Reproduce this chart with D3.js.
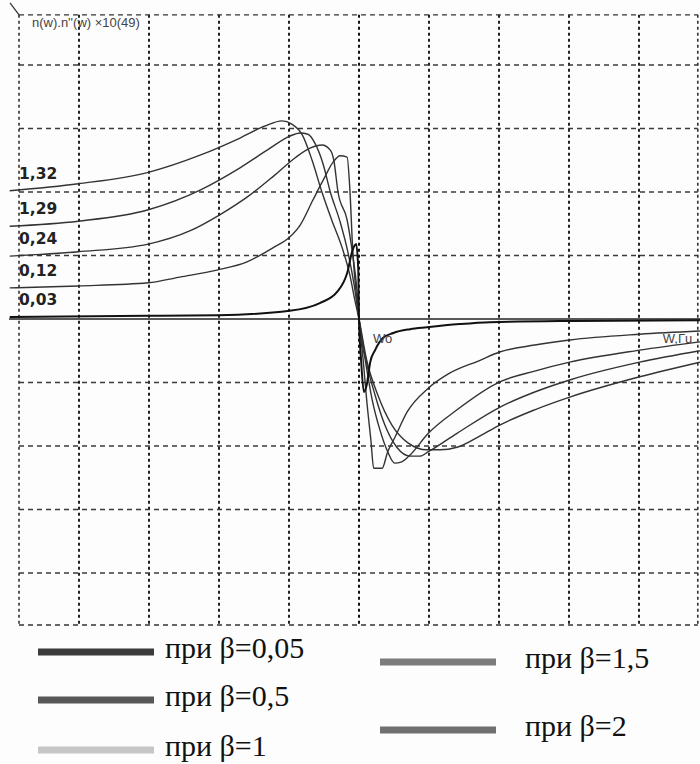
<!DOCTYPE html>
<html>
<head>
<meta charset="utf-8">
<script src="https://cdn.jsdelivr.net/npm/d3@7"></script>
<style>
body { margin: 0; background: #fff; }
svg { display: block; }
</style>
</head>
<body>
<svg id="chart" width="700" height="764"></svg>
<script>
// curves, one grid cell = 1 unit, origin at Wo
var n132 = [[-4.99,2.02],[-4.01,2.13],[-3.01,2.31],[-2.27,2.58],[-1.70,2.85],[-1.34,3.04],[-1.10,3.12],[-0.96,3.07],[-0.81,2.90],[-0.67,2.50],[-0.53,2.00],[-0.39,1.56],[-0.24,1.12],[-0.13,0.69],[-0.06,0.30],[0,0],[0.11,-0.65],[0.27,-1.20],[0.47,-1.67],[0.70,-1.95],[0.97,-2.06],[1.16,-2.06],[1.40,-2.02],[1.73,-1.84],[2.01,-1.67],[2.51,-1.43],[3.01,-1.23],[4.01,-0.91],[4.87,-0.68]];
var n129 = [[-4.99,1.46],[-4.01,1.54],[-3.01,1.72],[-2.27,2.03],[-1.70,2.38],[-1.27,2.69],[-0.99,2.88],[-0.84,2.93],[-0.73,2.91],[-0.63,2.77],[-0.51,2.43],[-0.41,2.00],[-0.27,1.53],[-0.16,1.06],[-0.07,0.54],[0,0],[0.10,-0.65],[0.23,-1.20],[0.37,-1.67],[0.54,-2.02],[0.73,-2.16],[0.87,-2.16],[0.99,-2.09],[1.40,-1.80],[2.01,-1.39],[2.51,-1.15],[3.01,-0.96],[4.01,-0.68],[4.87,-0.50]];
var n024 = [[-4.99,0.99],[-4.01,1.06],[-3.01,1.18],[-2.41,1.39],[-1.99,1.64],[-1.56,1.95],[-1.20,2.27],[-0.91,2.54],[-0.70,2.69],[-0.53,2.74],[-0.41,2.66],[-0.36,2.50],[-0.30,2.00],[-0.17,1.56],[-0.09,1.01],[-0.03,0.46],[0,0],[0.09,-0.65],[0.19,-1.28],[0.30,-1.75],[0.41,-2.09],[0.51,-2.27],[0.61,-2.25],[0.73,-2.14],[0.99,-1.80],[1.40,-1.43],[2.01,-0.99],[2.51,-0.82],[3.01,-0.68],[4.01,-0.49],[4.87,-0.36]];
var n012 = [[-4.99,0.49],[-4.01,0.52],[-3.01,0.57],[-2.56,0.66],[-2.03,0.77],[-1.60,0.90],[-1.23,1.12],[-0.99,1.29],[-0.84,1.48],[-0.66,1.87],[-0.51,2.19],[-0.37,2.47],[-0.27,2.57],[-0.17,2.55],[-0.13,2.03],[-0.09,1.09],[-0.03,0.30],[0,0],[0.06,-0.65],[0.11,-1.28],[0.17,-1.91],[0.21,-2.35],[0.33,-2.35],[0.41,-2.09],[0.51,-1.87],[0.69,-1.46],[0.99,-1.09],[1.30,-0.85],[1.73,-0.65],[2.01,-0.52],[2.51,-0.41],[3.01,-0.33],[4.01,-0.24],[4.87,-0.19]];
var n003 = [[-4.99,0.03],[-3.01,0.05],[-2.01,0.06],[-0.99,0.13],[-0.56,0.25],[-0.31,0.43],[-0.17,0.72],[-0.09,1.09],[-0.04,1.18],[-0.01,0.77],[0,0],[0.03,-0.65],[0.07,-1.15],[0.11,-1.04],[0.16,-0.68],[0.23,-0.49],[0.34,-0.30],[0.49,-0.22],[0.73,-0.16],[0.97,-0.13],[1.44,-0.08],[1.87,-0.05],[3.06,-0.03],[4.87,-0.02]];

var curveLabels = ["1,32", "1,29", "0,24", "0,12", "0,03"];
var betaLabels = ["при β=0,05", "при β=0,5", "при β=1", "при β=1,5", "при β=2"];
var gridX = [-4, -3, -2, -1, 0, 1, 2, 3, 4];
var gridY = [-4, -3, -2, -1, 1, 2, 3, 4];
var titleText = "n(w).n''(w) ×10(49)";

// ---------------------------------------------------------------------------

var svg = d3.select("#chart");
var x = d3.scaleLinear().domain([-5, 5]).range([9, 709]);
var y = d3.scaleLinear().domain([-5, 5]).range([636.5, 1.5]);

// frame edges, in the same units
var fl = -4.857, fr = 4.84, ft = 4.79, fb = -4.82;

svg.append("rect").attr("width", 700).attr("height", 764).attr("fill", "#fdfdfd");

var g = svg.append("g");

g.selectAll("line.vgrid")
    .data(gridX)
    .enter().append("line")
    .attr("class", "vgrid")
    .attr("x1", d => x(d)).attr("x2", d => x(d))
    .attr("y1", y(ft)).attr("y2", y(fb))
    .attr("stroke", d => d == 0 ? "#111" : "#222")
    .attr("stroke-width", 2)
    .attr("stroke-dasharray", "3,3");

g.selectAll("line.hgrid")
    .data(gridY)
    .enter().append("line")
    .attr("class", "hgrid")
    .attr("x1", x(fl)).attr("x2", x(fr))
    .attr("y1", d => y(d)).attr("y2", d => y(d))
    .attr("stroke", "#3a3a3a")
    .attr("stroke-width", 1.4)
    .attr("stroke-dasharray", "5,4");

// frame
g.selectAll("line.hframe")
    .data([ft, fb])
    .enter().append("line")
    .attr("x1", x(fl)).attr("x2", x(fr))
    .attr("y1", d => y(d)).attr("y2", d => y(d))
    .attr("stroke", "#333").attr("stroke-width", 1.4)
    .attr("stroke-dasharray", "5,4");
g.selectAll("line.vframe")
    .data([fl, fr])
    .enter().append("line")
    .attr("x1", d => x(d)).attr("x2", d => x(d))
    .attr("y1", y(ft)).attr("y2", y(fb))
    .attr("stroke", "#333").attr("stroke-width", 1.6)
    .attr("stroke-dasharray", "3,3");

// little tick at the corner
g.append("line")
    .attr("x1", x(fl) - 9).attr("y1", y(ft) - 12)
    .attr("x2", x(fl)).attr("y2", y(ft))
    .attr("stroke", "#333").attr("stroke-width", 1.2);

// horizontal axis
g.append("line")
    .attr("x1", x(-5)).attr("x2", 700)
    .attr("y1", y(0)).attr("y2", y(0))
    .attr("stroke", "#222").attr("stroke-width", 1.6);

var line = d3.line()
    .x(d => x(d[0]))
    .y(d => y(d[1]))
    .curve(d3.curveMonotoneX);

var curves = [n132, n129, n024, n012, n003];
g.selectAll("path.curve")
    .data(curves)
    .enter().append("path")
    .attr("class", "curve")
    .attr("d", line)
    .attr("fill", "none")
    .attr("stroke", (d, i) => i == 4 ? "#111" : "#333")
    .attr("stroke-width", (d, i) => i == 4 ? 2 : 1.4);

// value labels on the left, just above each curve
g.selectAll("text.clabel")
    .data(curveLabels)
    .enter().append("text")
    .attr("x", x(fl))
    .attr("y", (d, i) => y(curves[i][0][1]) - 12)
    .attr("font-family", "DejaVu Sans, sans-serif")
    .attr("font-weight", "bold")
    .attr("font-size", 15.5)
    .attr("fill", "#222")
    .text(d => d);

g.append("text")
    .attr("x", x(fl) + 13).attr("y", y(ft) + 12)
    .attr("font-family", "Liberation Sans, Arial, sans-serif")
    .attr("font-size", 13)
    .attr("fill", "#444")
    .text(titleText);

g.append("text")
    .attr("x", x(0.2)).attr("y", y(-0.38))
    .attr("font-family", "Liberation Sans, Arial, sans-serif")
    .attr("font-size", 13).attr("fill", "#444")
    .text("Wo");
g.append("text")
    .attr("x", x(4.34)).attr("y", y(-0.38))
    .attr("font-family", "Liberation Sans, Arial, sans-serif")
    .attr("font-size", 13).attr("fill", "#444")
    .text("W,Гu");

// legend
var legendColors = ["#3b3b3b", "#585858", "#c6c6c6", "#7c7c7c", "#707070"];
var legendPos = [[38, 652], [38, 700], [38, 750], [380, 662], [380, 730]];
var lg = svg.selectAll("g.legend")
    .data(betaLabels)
    .enter().append("g")
    .attr("class", "legend")
    .attr("transform", (d, i) => `translate(${legendPos[i][0]},${legendPos[i][1]})`);
lg.append("rect")
    .attr("x", 0).attr("y", -3.5)
    .attr("width", 116)
    .attr("height", 7)
    .attr("fill", (d, i) => legendColors[i]);
lg.append("text")
    .attr("x", (d, i) => i < 3 ? 127 : 145)
    .attr("y", 6)
    .attr("font-family", "Liberation Serif, Times New Roman, serif")
    .attr("font-size", 30)
    .attr("fill", "#111")
    .text(d => d);
</script>
</body>
</html>
